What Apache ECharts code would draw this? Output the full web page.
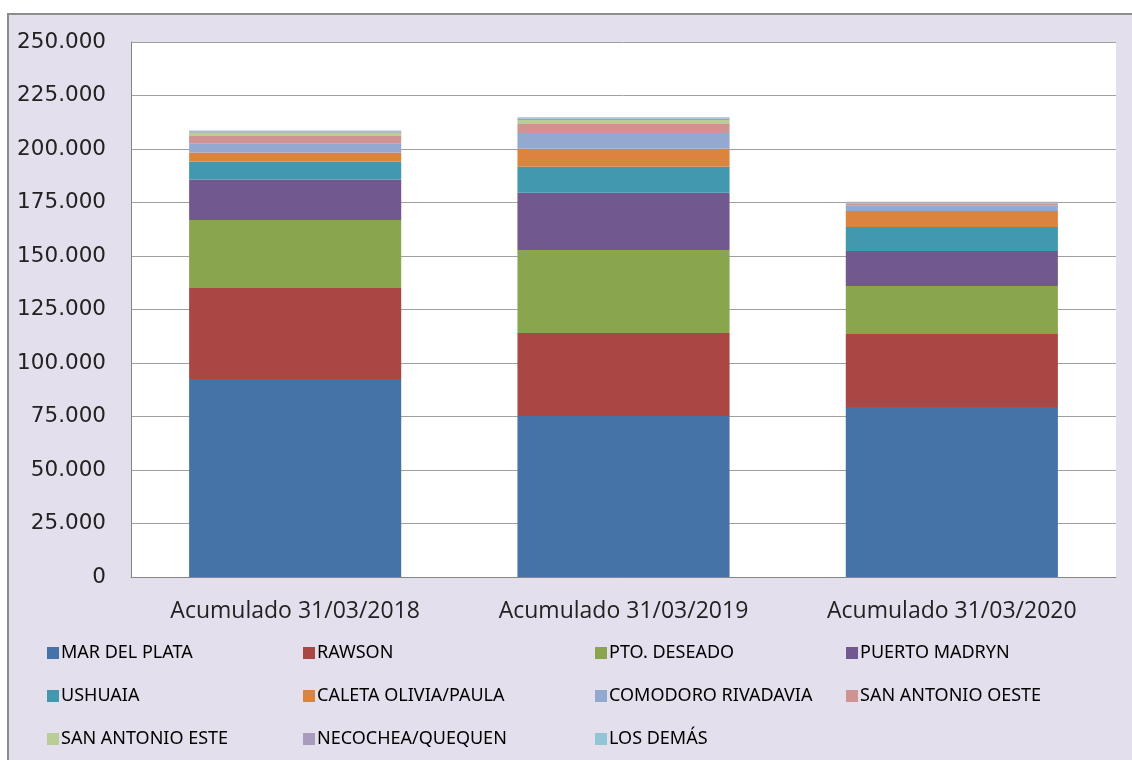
<!DOCTYPE html>
<html>
<head>
<meta charset="utf-8">
<script src="https://cdn.jsdelivr.net/npm/echarts@6/dist/echarts.min.js"></script>
<style>
html,body{margin:0;padding:0;background:#fff;}
#chart{width:1132px;height:760px;}
</style>
</head>
<body>
<div id="chart"></div>
<script>
const categories = ['Acumulado 31/03/2018', 'Acumulado 31/03/2019', 'Acumulado 31/03/2020'];
const seriesNames = ['MAR DEL PLATA', 'RAWSON', 'PTO. DESEADO', 'PUERTO MADRYN', 'USHUAIA', 'CALETA OLIVIA/PAULA', 'COMODORO RIVADAVIA', 'SAN ANTONIO OESTE', 'SAN ANTONIO ESTE', 'NECOCHEA/QUEQUEN', 'LOS DEMÁS'];
const marDelPlata = [92500, 75200, 79400];
const rawson = [42500, 38800, 34200];
const ptoDeseado = [31800, 38800, 22400];
const puertoMadryn = [19000, 26800, 16300];
const ushuaia = [8400, 12100, 11300];
const caletaOlivia = [4200, 8400, 7400];
const comodoro = [4300, 7400, 2700];
const sanAntonioOeste = [3400, 4200, 900];
const sanAntonioEste = [1500, 1900, 300];
const necochea = [700, 600, 200];
const losDemas = [400, 600, 300];
const yTicks = [0, 25000, 50000, 75000, 100000, 125000, 150000, 175000, 200000, 225000, 250000];

const allValues = [marDelPlata, rawson, ptoDeseado, puertoMadryn, ushuaia, caletaOlivia, comodoro, sanAntonioOeste, sanAntonioEste, necochea, losDemas];
const colors = ['#4572A7', '#AA4643', '#89A54E', '#71588F', '#4198AF', '#DB843D', '#93A9CF', '#D19392', '#B9CD96', '#A99BBD', '#92C5D6'];

const legendPos = [
  [47, 644], [303, 644], [595, 644], [846, 644],
  [47, 687], [303, 687], [595, 687], [846, 687],
  [47, 730], [303, 730], [595, 730]
];

function fmt(v) {
  return String(v).replace(/\B(?=(\d{3})+(?!\d))/g, '.');
}

const chart = echarts.init(document.getElementById('chart'), null, {renderer: 'canvas'});
const option = {
  animation: false,
  color: colors,
  graphic: [{
    type: 'rect', z: -10, silent: true,
    shape: {x: 8, y: 14, width: 1140, height: 760},
    style: {fill: '#E4DFEC', stroke: '#8C8C8C', lineWidth: 2}
  }, {
    type: 'rect', z: -5, silent: true,
    shape: {x: 131, y: 42, width: 985, height: 535},
    style: {fill: '#FFFFFF'}
  }],
  grid: {left: 131, top: 42, right: 16, bottom: 183, containLabel: false},
  legend: seriesNames.map((n, i) => ({
    data: [n], left: legendPos[i][0], top: legendPos[i][1],
    itemWidth: 12, itemHeight: 12, itemGap: 4,
    icon: 'rect', selectedMode: false, padding: 0,
    textStyle: {fontFamily: "'Noto Sans', sans-serif", fontSize: 18, color: '#000', padding: [0,0,0,-3]}
  })),
  xAxis: {
    type: 'category', data: categories,
    axisLine: {lineStyle: {color: '#868686', width: 1}},
    axisTick: {show: false},
    axisLabel: {fontFamily: "'Open Sans', sans-serif", fontSize: 23, color: '#222', margin: 23}
  },
  yAxis: {
    type: 'value', min: 0, max: 250000, interval: 25000,
    axisLine: {show: true, lineStyle: {color: '#868686'}},
    axisTick: {show: false},
    splitLine: {lineStyle: {color: '#A0A0A0', width: 1}},
    axisLabel: {fontFamily: "'DejaVu Sans', sans-serif", fontSize: 21.5, color: '#222', margin: 25,
      formatter: v => yTicks.includes(v) ? fmt(v) : ''}
  },
  series: seriesNames.map((n, i) => ({
    name: n, type: 'bar', stack: 'total', barWidth: '64.6%',
    data: allValues[i],
    itemStyle: {color: colors[i]}
  }))
};
chart.setOption(option);
</script>
</body>
</html>
